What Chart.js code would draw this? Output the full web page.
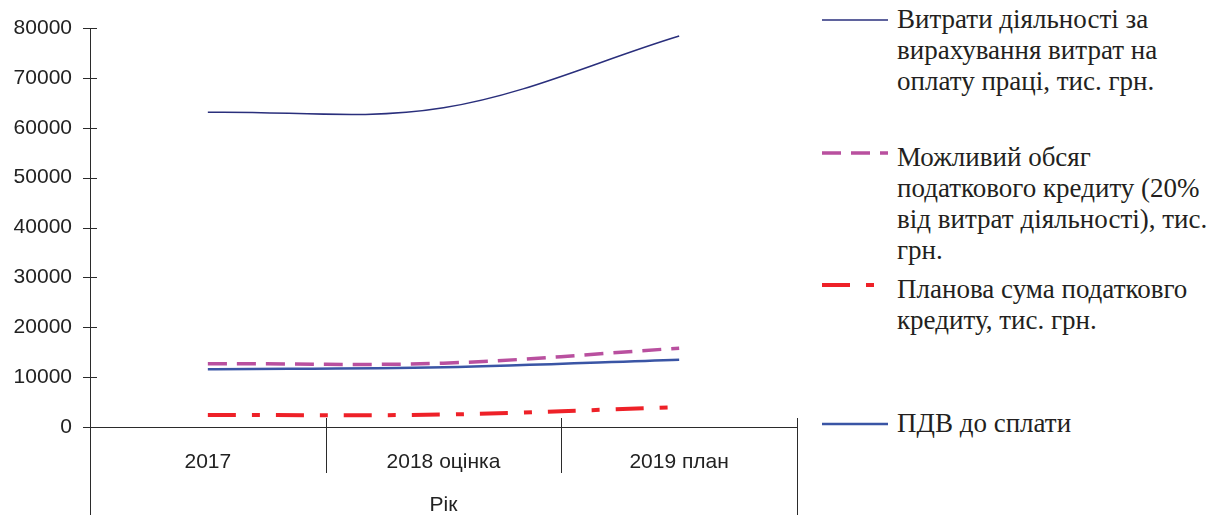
<!DOCTYPE html>
<html>
<head>
<meta charset="utf-8">
<script src="https://cdn.jsdelivr.net/npm/chart.js@4.4.1/dist/chart.umd.min.js"></script>
<style>
  html, body { margin: 0; padding: 0; background: #fff; }
  #wrap { position: relative; width: 1213px; height: 515px; overflow: hidden; }
  #chartBox { position: absolute; left: 0; top: 0; width: 810px; height: 515px; }
  .legend-item { position: absolute; left: 822px; }
  .legend-item svg { position: absolute; left: 0; }
  .txt {
    position: absolute; left: 75px; white-space: nowrap;
    font-size: 27px; line-height: 31px; color: #231f20;
  }
</style>
</head>
<body>
<div id="wrap">
  <div id="chartBox"><canvas id="taxChart"></canvas></div>
  <div id="legend"></div>
</div>
<script>
// Chart data
const categories = ['2017', '2018 оцінка', '2019 план'];
const expenses = [63100, 64000, 78400];      // Витрати діяльності
const possibleCredit = [12700, 12800, 15800]; // Можливий обсяг податкового кредиту
const plannedCredit = [2400, 2500, 4000];     // Планова сума податкового кредиту
const vatPayable = [11600, 12000, 13500];     // ПДВ до сплати
const yTicks = [0, 10000, 20000, 30000, 40000, 50000, 60000, 70000, 80000];

const seriesNames = [
    'Витрати діяльності за<br>вирахування витрат на<br>оплату праці, тис. грн.',
    'Можливий обсяг<br>податкового кредиту (20%<br>від витрат діяльності), тис.<br>грн.',
    'Планова сума податковго<br>кредиту, тис. грн.',
    'ПДВ до сплати'
];

const axisColor = '#2b2b2b';
const sansFont = "'Liberation Sans', Arial, sans-serif";
const serifFont = "'Liberation Serif', 'DejaVu Serif', 'Noto Serif', 'FreeSerif', serif";

/**
 * Draws crossing tick marks, category separators and the outer frame
 */
const axisDecor = {
    id: 'axisDecor',
    afterDraw(chart) {
        const ctx = chart.ctx;
        const area = chart.chartArea;
        const x = chart.scales.x;
        const y = chart.scales.y;
        ctx.save();
        ctx.strokeStyle = axisColor;
        ctx.lineWidth = 1;
        ctx.beginPath();
        // y ticks cross the axis
        yTicks.forEach(v => {
            const py = Math.round(y.getPixelForValue(v)) + 0.5;
            ctx.moveTo(area.left - 7, py);
            ctx.lineTo(area.left + 7, py);
        });
        // separators between categories
        for (let i = 0; i < categories.length - 1; i++) {
            const px = Math.round((x.getPixelForValue(i) + x.getPixelForValue(i + 1)) / 2) + 0.5;
            ctx.moveTo(px, area.bottom - 9);
            ctx.lineTo(px, area.bottom + 46);
        }
        // outer verticals for the "Рік" level
        const lx = Math.round(area.left) + 0.5;
        const rx = Math.round(area.right) + 0.5;
        ctx.moveTo(lx, area.bottom);
        ctx.lineTo(lx, chart.height);
        ctx.moveTo(rx, area.bottom - 9);
        ctx.lineTo(rx, chart.height);
        ctx.stroke();
        ctx.restore();
    }
};

const ctx = document.getElementById('taxChart').getContext('2d');
const taxChart = new Chart(ctx, {
    type: 'line',
    data: {
        labels: categories,
        datasets: [
            {
                label: 'Витрати діяльності',
                data: expenses,
                borderColor: '#2a2f7c',
                borderWidth: 1.5,
                tension: 0.35,
                pointRadius: 0
            },
            {
                label: 'Можливий обсяг податкового кредиту',
                data: possibleCredit,
                borderColor: '#b9509f',
                borderWidth: 3.5,
                borderDash: [19, 10],
                tension: 0.35,
                pointRadius: 0
            },
            {
                label: 'Планова сума податкового кредиту',
                data: plannedCredit,
                borderColor: '#ee2128',
                borderWidth: 4,
                borderDash: [28, 16, 8, 16],
                tension: 0.35,
                pointRadius: 0
            },
            {
                label: 'ПДВ до сплати',
                data: vatPayable,
                borderColor: '#3a55a5',
                borderWidth: 2.5,
                tension: 0.35,
                pointRadius: 0
            }
        ]
    },
    options: {
        responsive: true,
        maintainAspectRatio: false,
        animation: false,
        layout: { padding: { top: 28, right: 13, left: 0, bottom: 0 } },
        plugins: {
            legend: { display: false },
            tooltip: { enabled: false }
        },
        scales: {
            x: {
                type: 'category',
                offset: true,
                grid: { display: false, drawTicks: false },
                border: { display: true, color: axisColor, width: 1 },
                ticks: {
                    color: '#222',
                    font: { family: sansFont, size: 21 },
                    padding: 23,
                    maxRotation: 0,
                    autoSkip: false
                },
                title: {
                    display: true,
                    text: 'Рік',
                    color: '#222',
                    font: { family: sansFont, size: 21 },
                    padding: { top: 0, bottom: -3 }
                },
                afterFit(scale) {
                    scale.height = 88;
                    scale.paddingLeft = 0;
                    scale.paddingRight = 0;
                }
            },
            y: {
                min: 0,
                max: 80000,
                grid: { display: false, drawTicks: false },
                border: { display: true, color: axisColor, width: 1 },
                ticks: {
                    stepSize: 10000,
                    color: '#222',
                    padding: 18,
                    font: { family: sansFont, size: 21 },
                    callback: value => String(value)
                },
                afterFit(scale) {
                    scale.width = 90;
                    scale.paddingTop = 0;
                    scale.paddingBottom = 0;
                }
            }
        }
    },
    plugins: [axisDecor]
});

/**
 * Build the legend on the right
 */
function renderLegend() {
    const items = [
        { top: 4, lineY: 16, color: '#2a2f7c', width: 1.5, dash: '' },
        { top: 142, lineY: 11, color: '#b9509f', width: 3.5, dash: '19 10' },
        { top: 274, lineY: 11, color: '#ee2128', width: 4, dash: '28 16 8 16' },
        { top: 408, lineY: 16, color: '#3a55a5', width: 2.5, dash: '' }
    ];
    let html = '';
    items.forEach((it, i) => {
        const lineEnd = i === 2 ? 52 : 66;
        html += `
            <div class="legend-item" style="top:${it.top}px">
                <svg width="70" height="32" style="top:0">
                    <line x1="0" y1="${it.lineY}" x2="${lineEnd}" y2="${it.lineY}"
                          stroke="${it.color}" stroke-width="${it.width}"
                          ${it.dash ? `stroke-dasharray="${it.dash}"` : ''}/>
                </svg>
                <div class="txt" style="font-family:${serifFont}">${seriesNames[i]}</div>
            </div>`;
    });
    document.getElementById('legend').innerHTML = html;
}

renderLegend();
</script>
</body>
</html>
